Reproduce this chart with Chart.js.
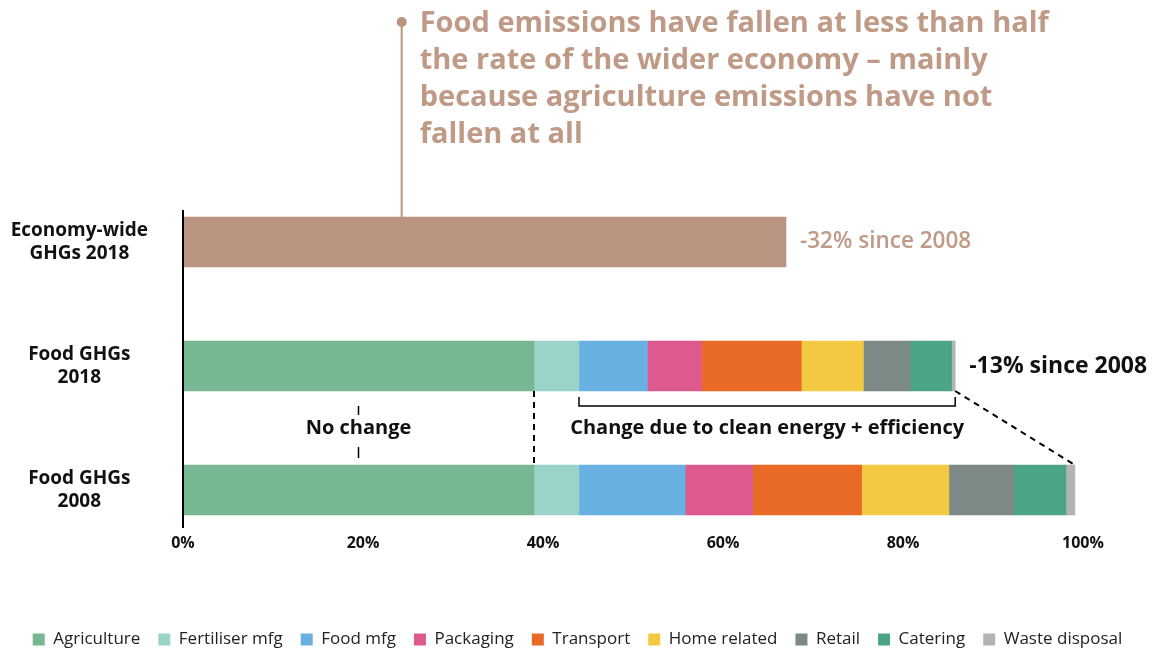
<!DOCTYPE html>
<html>
<head>
<meta charset="utf-8">
<script src="https://cdn.jsdelivr.net/npm/chart.js@4"></script>
<style>
  html, body { margin: 0; padding: 0; background: #fff; }
</style>
</head>
<body>
<canvas id="ghgChart" width="1155" height="652"></canvas>
<script>
const categories = [["Economy-wide", "GHGs 2018"], ["Food GHGs", "2018"], ["Food GHGs", "2008"]];
const sectors = ["Agriculture", "Fertiliser mfg", "Food mfg", "Packaging", "Transport",
                 "Home related", "Retail", "Catering", "Waste disposal"];
const sectorColours = ["#77b792", "#9bd3c9", "#69b0e2", "#de5a8e", "#e96a27",
                       "#f4c942", "#7d8987", "#4ba485", "#b3b3b3"];
const food2018 = [39, 5, 7.6, 6, 11.1, 6.9, 5.2, 4.6, 0.4];
const food2008 = [39, 5, 11.8, 7.5, 12.1, 9.7, 7.2, 5.8, 1.0];
const economyWide2018 = 67;
const xTickStep = 20;
const noteLines = ["Food emissions have fallen at less than half",
                   "the rate of the wider economy \u2013 mainly",
                   "because agriculture emissions have not",
                   "fallen at all"];
const noteAnchor = 24.3;   // % on the x axis where the callout line sits
const econLabel = "-32% since 2008";
const foodLabel = "-13% since 2008";

const FONT = "'Open Sans', sans-serif";
const TAN = "#b99581";
const TAN_TEXT = "#bf9a86";

const datasets = [{
    label: "Economy-wide",
    data: [economyWide2018, null, null],
    backgroundColor: TAN,
    stack: "s"
}];
sectors.forEach((name, i) => {
    datasets.push({
        label: name,
        data: [null, food2018[i], food2008[i]],
        backgroundColor: sectorColours[i],
        stack: "s"
    });
});

const sum = arr => arr.reduce((a, b) => a + b, 0);

const annotations = {
    id: "annotations",
    afterDraw(chart) {
        const ctx = chart.ctx;
        const xs = chart.scales.x;
        const econBar = chart.getDatasetMeta(0).data[0];
        const bar18 = chart.getDatasetMeta(1).data[1];
        const bar08 = chart.getDatasetMeta(1).data[2];
        const h = bar18.height;
        const econTop = econBar.y - h / 2;
        const b18Bot = bar18.y + h / 2;
        const b08Top = bar08.y - h / 2, b08Bot = bar08.y + h / 2;

        const agri = food2018[0];
        const xAgri = xs.getPixelForValue(agri);
        const xFert = xs.getPixelForValue(food2018[0] + food2018[1]);
        const x18 = xs.getPixelForValue(sum(food2018));
        const x08 = xs.getPixelForValue(sum(food2008));
        const xEcon = xs.getPixelForValue(economyWide2018);
        const x0 = xs.getPixelForValue(0);

        ctx.save();

        // y axis line
        ctx.strokeStyle = "#000";
        ctx.lineWidth = 2;
        ctx.beginPath();
        ctx.moveTo(x0, econTop - 7);
        ctx.lineTo(x0, b08Bot + 13);
        ctx.stroke();

        // callout line + dot
        const xNote = xs.getPixelForValue(noteAnchor);
        ctx.strokeStyle = TAN;
        ctx.fillStyle = TAN;
        ctx.lineWidth = 2;
        ctx.beginPath();
        ctx.moveTo(xNote, 22);
        ctx.lineTo(xNote, econTop);
        ctx.stroke();
        ctx.beginPath();
        ctx.arc(xNote, 22, 5, 0, Math.PI * 2);
        ctx.fill();

        ctx.fillStyle = TAN_TEXT;
        ctx.font = "bold 29px " + FONT;
        ctx.textAlign = "left";
        ctx.textBaseline = "middle";
        noteLines.forEach((line, i) => ctx.fillText(line, xNote + 18, 24 + i * 37));

        // bar end labels
        ctx.font = "600 22.5px " + FONT;
        ctx.fillText(econLabel, xEcon + 14, econBar.y);
        ctx.fillStyle = "#111";
        ctx.font = "bold 23px " + FONT;
        ctx.fillText(foodLabel, x18 + 14, bar18.y);

        // dashed lines between the food bars
        ctx.strokeStyle = "#000";
        ctx.lineWidth = 2;
        ctx.setLineDash([6, 5]);
        ctx.beginPath();
        ctx.moveTo(xAgri, b18Bot);
        ctx.lineTo(xAgri, b08Top);
        ctx.moveTo(x18, b18Bot);
        ctx.lineTo(x08, b08Top);
        ctx.stroke();
        ctx.setLineDash([]);

        // bracket
        ctx.lineWidth = 1.5;
        ctx.beginPath();
        ctx.moveTo(xFert, b18Bot + 6);
        ctx.lineTo(xFert, b18Bot + 15);
        ctx.lineTo(x18, b18Bot + 15);
        ctx.lineTo(x18, b18Bot + 6);
        ctx.stroke();

        const midY = (b18Bot + b08Top) / 2;
        ctx.fillStyle = "#111";
        ctx.font = "bold 20px " + FONT;
        ctx.textAlign = "center";
        ctx.fillText("Change due to clean energy + efficiency", (xFert + x18) / 2, midY);

        const xNo = xs.getPixelForValue(agri / 2);
        ctx.fillText("No change", xNo, midY);
        ctx.beginPath();
        ctx.moveTo(xNo, b18Bot + 15);
        ctx.lineTo(xNo, b18Bot + 24);
        ctx.moveTo(xNo, b08Top - 18);
        ctx.lineTo(xNo, b08Top - 7);
        ctx.stroke();

        ctx.restore();
    }
};

new Chart(document.getElementById("ghgChart"), {
    type: "bar",
    data: { labels: categories, datasets: datasets },
    options: {
        indexAxis: "y",
        responsive: false,
        devicePixelRatio: 1,
        animation: false,
        clip: false,
        barThickness: 50,
        layout: { padding: { top: 242, left: 0, right: 0, bottom: -6 } },
        scales: {
            x: {
                stacked: true,
                min: 0,
                max: 108,   // leaves room on the right for the "-13%" label
                grid: { display: false, drawTicks: false },
                border: { display: false },
                ticks: {
                    stepSize: xTickStep,
                    includeBounds: false,
                    padding: 44,
                    color: "#111",
                    font: { family: FONT, size: 16, weight: "bold" },
                    callback: v => (v <= 100 ? v + "%" : "")
                },
                afterFit: scale => { scale.height = 123; }
            },
            y: {
                stacked: true,
                offset: false,
                grid: { display: false, drawTicks: false },
                border: { display: false },
                ticks: {
                    crossAlign: "center",
                    padding: 35,
                    color: "#111",
                    font: { family: FONT, size: 19, weight: "bold", lineHeight: 1.25 }
                },
                afterFit: scale => { scale.width = 183; }
            }
        },
        plugins: {
            tooltip: { enabled: false },
            legend: {
                position: "bottom",
                labels: {
                    boxWidth: 12,
                    boxHeight: 12,
                    padding: 18,
                    color: "#222",
                    font: { family: FONT, size: 17 },
                    filter: item => item.datasetIndex > 0
                }
            }
        }
    },
    plugins: [annotations]
});
</script>
</body>
</html>
